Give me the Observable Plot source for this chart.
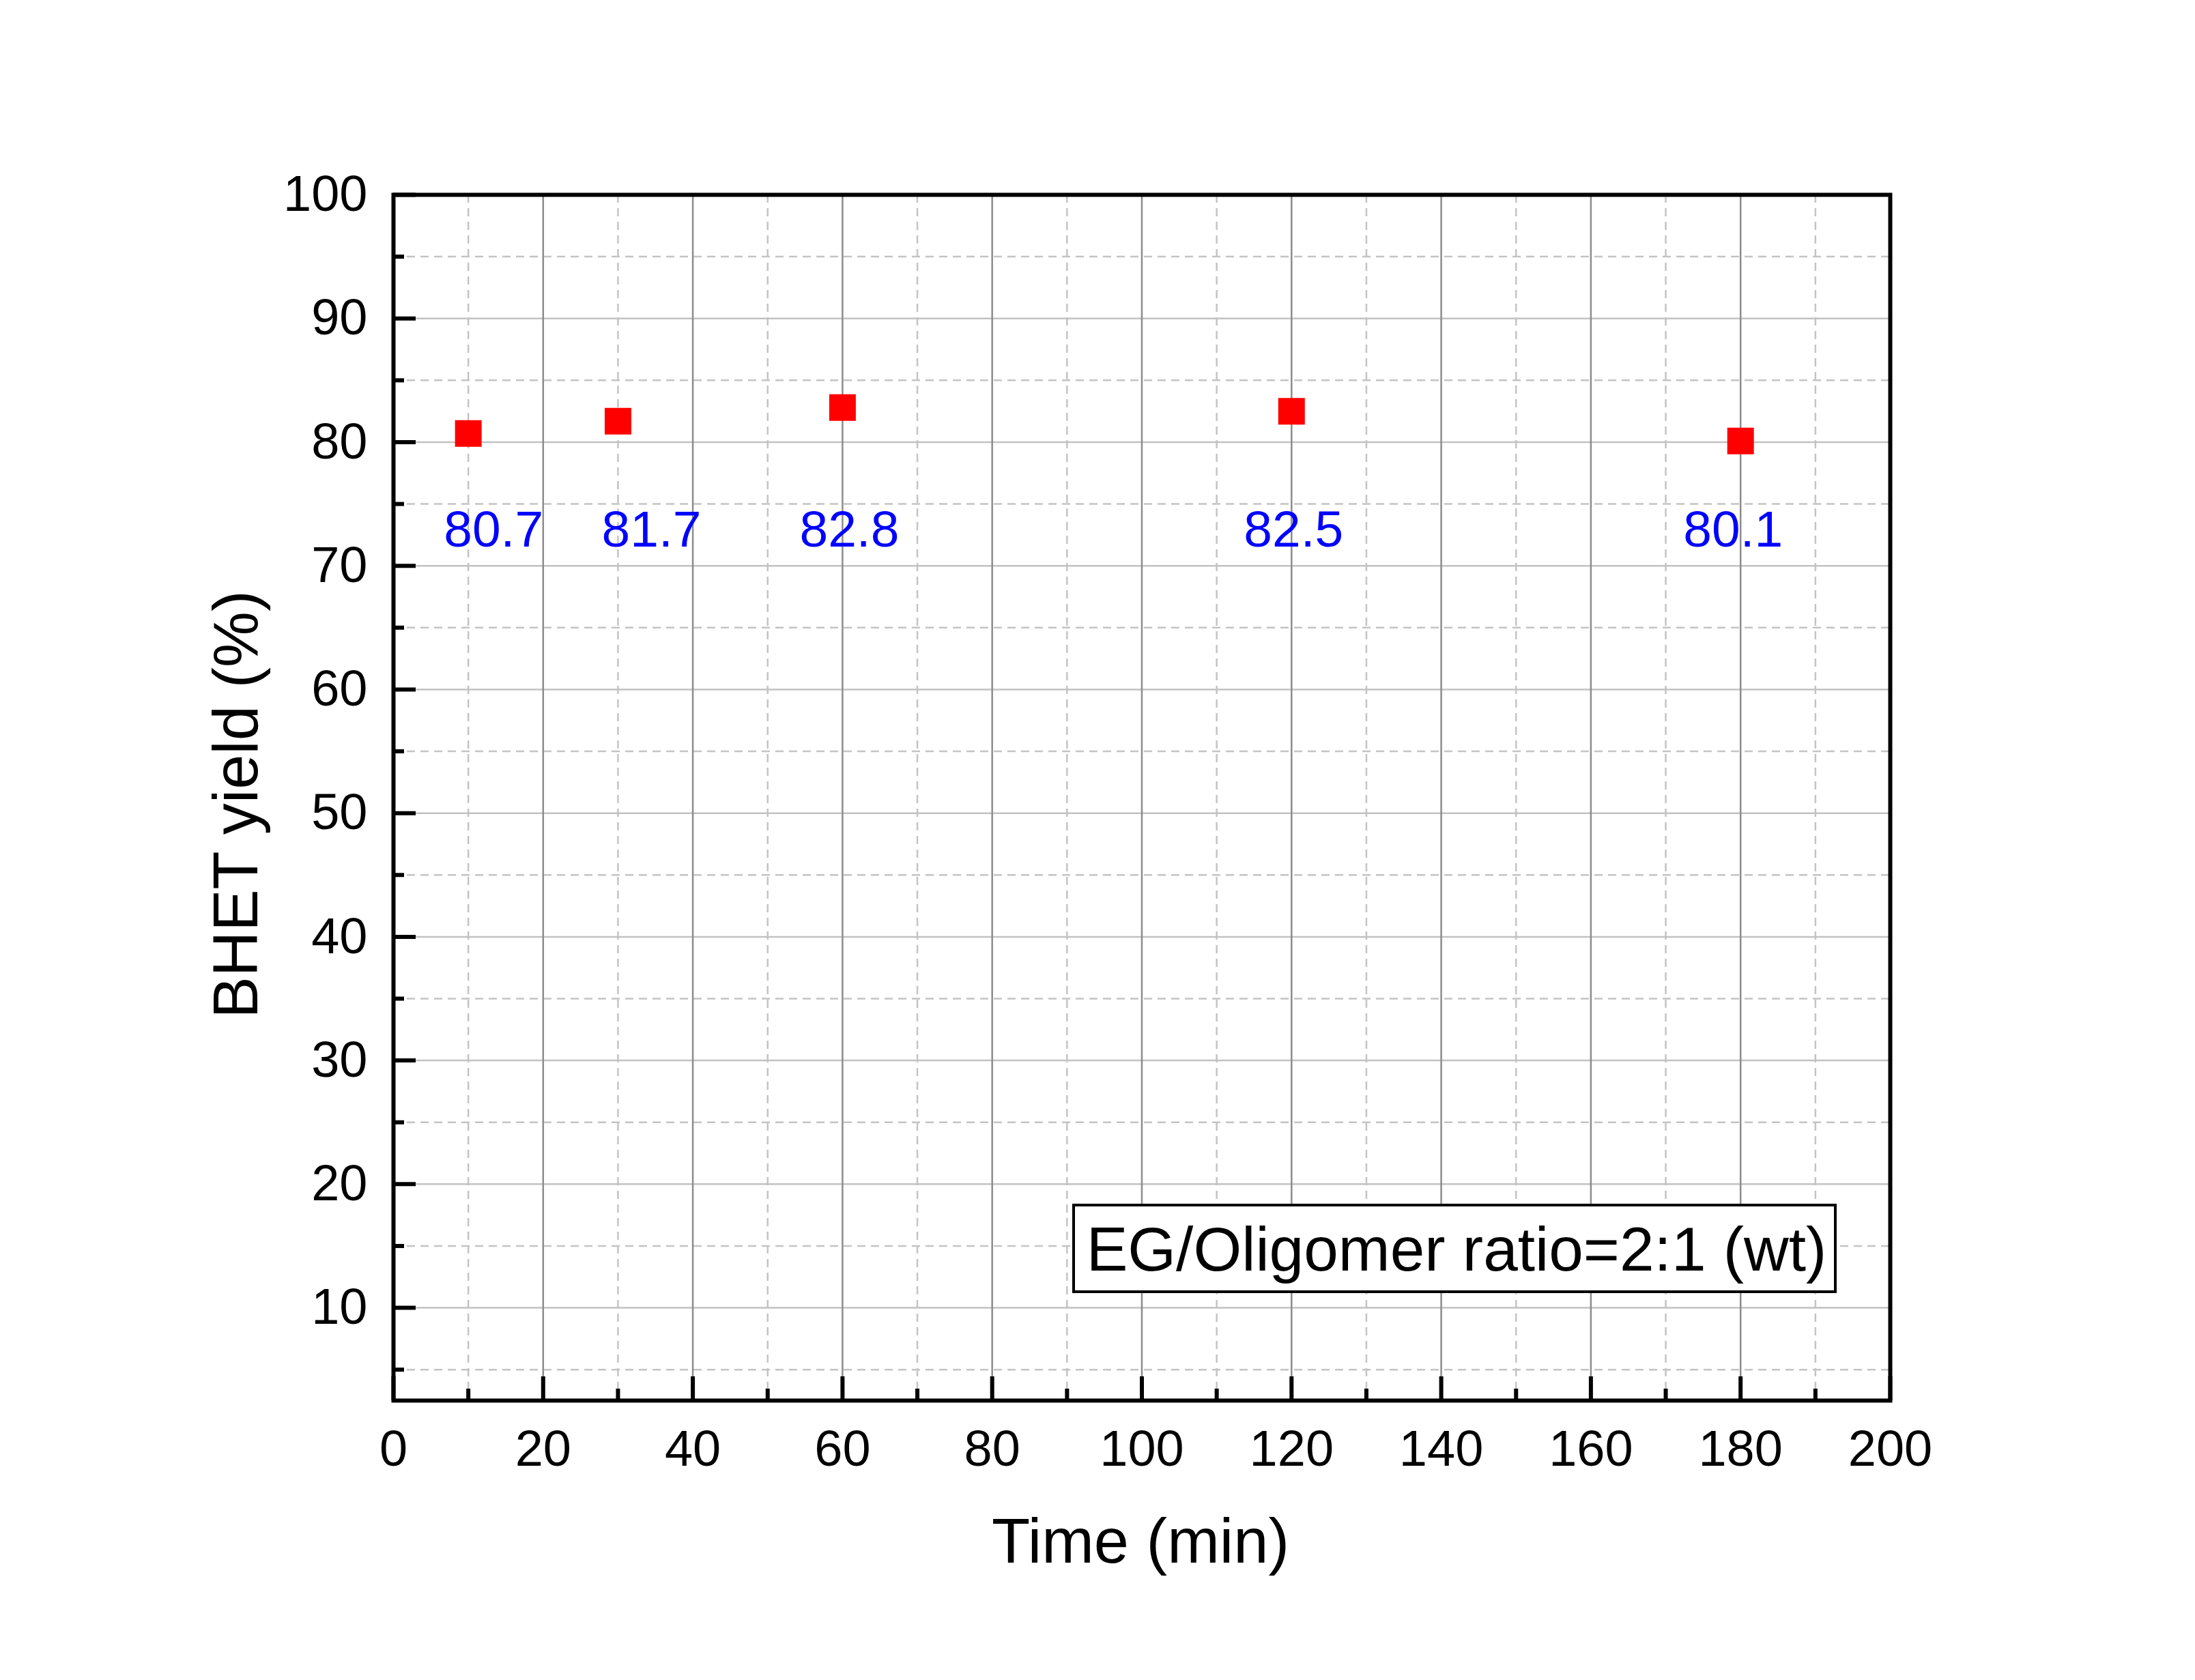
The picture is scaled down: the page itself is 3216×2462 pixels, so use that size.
<!DOCTYPE html>
<html>
<head>
<meta charset="utf-8">
<script src="https://cdn.jsdelivr.net/npm/d3@7"></script>
<script src="https://cdn.jsdelivr.net/npm/@observablehq/plot@0.6"></script>
<style>
  html, body { margin: 0; padding: 0; background: #ffffff; }
  #chart svg { display: block; }
</style>
</head>
<body>
<div id="chart"></div>
<script>
// ---- data ----
const time = [10, 30, 60, 120, 180];
const yieldPct = [80.7, 81.7, 82.8, 82.5, 80.1];
const xTicks = [0, 20, 40, 60, 80, 100, 120, 140, 160, 180, 200];
const xMinorTicks = [10, 30, 50, 70, 90, 110, 130, 150, 170, 190];
const yTicks = [10, 20, 30, 40, 50, 60, 70, 80, 90, 100];
const yMinorTicks = [5, 15, 25, 35, 45, 55, 65, 75, 85, 95];
const xLabel = "Time (min)";
const yLabel = "BHET yield (%)";
const legendText = "EG/Oligomer ratio=2:1 (wt)";

const points = time.map((t, i) => ({time: t, value: yieldPct[i], label: yieldPct[i].toFixed(1)}));

// ---- layout / style ----
const W = 3216, H = 2462;
const mL = 576, mR = 447, mT = 285, mB = 410;
const plotW = W - mL - mR, plotH = H - mT - mB;
const font = "'Liberation Sans', Arial, sans-serif";
const labelDx = [37, 49, 10, 3, -11];

const chart = Plot.plot({
  width: W,
  height: H,
  marginLeft: mL, marginRight: mR, marginTop: mT, marginBottom: mB,
  x: {domain: [0, 200]},
  y: {domain: [2.5, 100]},
  style: {fontFamily: font, background: "#ffffff", color: "#000000"},
  marks: [
    // minor grid (dashed)
    Plot.ruleX(xMinorTicks, {x: d => d, stroke: "#c4c4c4", strokeWidth: 2.5, strokeDasharray: "12,8"}),
    Plot.ruleY(yMinorTicks, {y: d => d, stroke: "#c4c4c4", strokeWidth: 2.5, strokeDasharray: "12,8"}),
    // major grid
    Plot.ruleY(yTicks.filter(d => d < 100), {y: d => d, stroke: "#c2c2c2", strokeWidth: 2.5}),
    Plot.ruleX(xTicks.filter(d => d > 0 && d < 200), {x: d => d, stroke: "#8c8c8c", strokeWidth: 2.5}),
    // legend box
    Plot.rect([0], {
      insetLeft: 997, insetRight: 80, insetTop: 1481, insetBottom: 159,
      fill: "#ffffff", stroke: "#000000", strokeWidth: 4
    }),
    Plot.text([legendText], {
      text: d => d, frameAnchor: "bottom", dx: 461, dy: -191,
      lineAnchor: "bottom", textAnchor: "middle", fontSize: 91, fill: "#000000", fontFamily: font
    }),
    // frame
    Plot.frame({stroke: "#000000", strokeWidth: 6}),
    // inward ticks
    Plot.ruleY(yTicks, {y: d => d, insetRight: plotW - 33, stroke: "#000000", strokeWidth: 6}),
    Plot.ruleY(yMinorTicks, {y: d => d, insetRight: plotW - 16, stroke: "#000000", strokeWidth: 6}),
    Plot.ruleX(xTicks, {x: d => d, insetTop: plotH - 35, stroke: "#000000", strokeWidth: 6}),
    Plot.ruleX(xMinorTicks, {x: d => d, insetTop: plotH - 17, stroke: "#000000", strokeWidth: 6}),
    // tick labels
    Plot.axisY(yTicks, {tickSize: 0, tickPadding: 38, fontSize: 74, label: null, fontFamily: font}),
    Plot.axisX(xTicks, {tickSize: 0, tickPadding: 43, fontSize: 74, label: null, fontFamily: font}),
    // axis titles
    Plot.text([xLabel], {
      text: d => d, frameAnchor: "bottom", dx: -2, dy: 237,
      lineAnchor: "bottom", textAnchor: "middle", fontSize: 92, fill: "#000000", fontFamily: font
    }),
    Plot.text([yLabel], {
      text: d => d, frameAnchor: "left", dx: -200, dy: 10, rotate: -90,
      lineAnchor: "bottom", textAnchor: "middle", fontSize: 92, fill: "#000000", fontFamily: font
    }),
    // data points
    Plot.dot(points, {x: "time", y: "value", symbol: "square", r: 22, fill: "#ff0000", stroke: null}),
    // value labels
    ...points.map((p, i) => Plot.text([p], {
      x: "time", text: "label", frameAnchor: "top", dy: 515, dx: labelDx[i],
      lineAnchor: "bottom", textAnchor: "middle", fontSize: 75, fill: "#0000ff", fontFamily: font
    }))
  ]
});

document.getElementById("chart").appendChild(chart);
</script>
</body>
</html>
